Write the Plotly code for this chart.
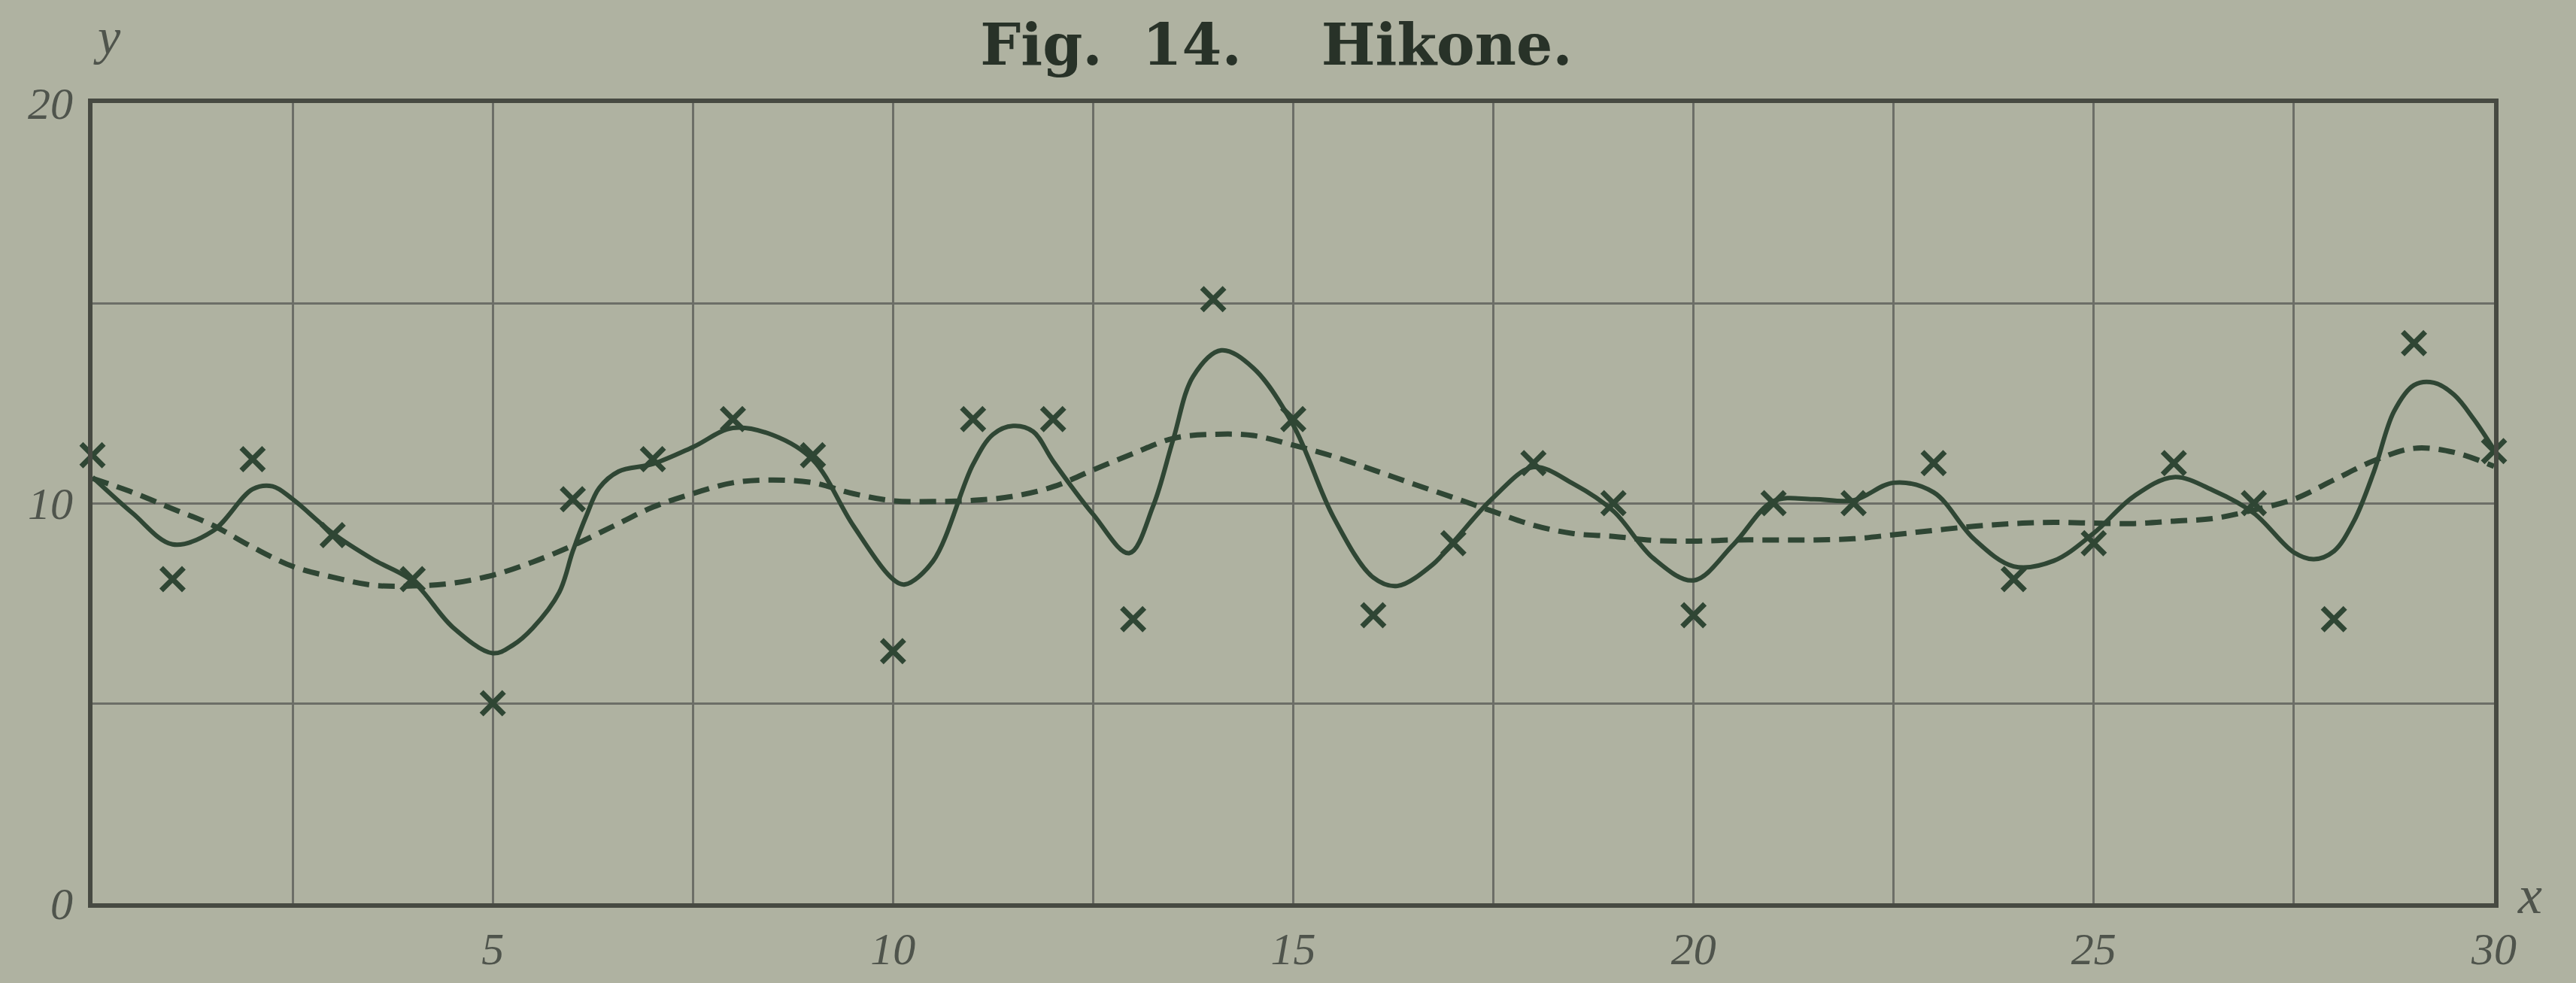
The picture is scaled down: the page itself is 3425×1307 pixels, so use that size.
import plotly.graph_objects as go

# Observed daily values (crosses)
obs_x = list(range(31))
obs_y = [11.2, 8.1, 11.1, 9.2, 8.1, 5.0, 10.1, 11.1, 12.1, 11.2,
         6.3, 12.1, 12.1, 7.1, 15.1, 12.1, 7.2, 9.0, 11.0, 10.0,
         7.2, 10.0, 10.0, 11.0, 8.1, 9.0, 11.0, 10.0, 7.1, 14.0, 11.3]

# Full curve (solid)
full_x = [0, 0.5, 1, 1.5, 2, 2.25, 2.5, 3, 3.5, 4, 4.5, 5, 5.25, 5.5, 5.83,
          6, 6.17, 6.33, 6.57, 7, 7.5, 8, 8.5, 9, 9.5, 10, 10.15, 10.5, 11,
          11.25, 11.5, 11.75, 12, 12.5, 12.95, 13.25, 13.5, 13.75, 14.1, 14.5,
          15, 15.5, 16, 16.3, 16.75, 17, 17.5, 18, 18.5, 19, 19.5, 20, 20.5,
          21, 21.5, 22, 22.5, 23, 23.5, 24, 24.5, 25, 25.5, 26, 26.5, 27,
          27.5, 27.75, 28, 28.25, 28.5, 28.75, 29, 29.25, 29.5, 29.75, 30]
full_y = [10.65, 9.75, 8.97, 9.3, 10.35, 10.42, 10.1, 9.25, 8.6, 8.05, 6.9,
          6.25, 6.45, 6.88, 7.77, 8.8, 9.69, 10.38, 10.79, 10.98, 11.4,
          11.88, 11.7, 11.08, 9.45, 8.1, 7.97, 8.55, 10.97, 11.72, 11.93,
          11.79, 11.05, 9.72, 8.75, 9.93, 11.59, 13.17, 13.82, 13.38, 11.95,
          9.66, 8.14, 7.93, 8.48, 9.03, 10.14, 10.9, 10.48, 9.8, 8.62, 8.07,
          8.97, 10.05, 10.1, 10.07, 10.51, 10.27, 9.11, 8.42, 8.56, 9.25,
          10.17, 10.65, 10.31, 9.75, 8.77, 8.6, 8.8, 9.55, 10.79, 12.29,
          12.95, 13.01, 12.71, 12.09, 11.34]

# Smoothed curve (dashed)
smooth_x = [i * 0.5 for i in range(61)]
smooth_y = [10.62, 10.27, 9.86, 9.45, 8.9, 8.42, 8.15, 7.95, 7.93, 8.0,
            8.2, 8.53, 8.94, 9.42, 9.9, 10.24, 10.51, 10.58, 10.51, 10.24,
            10.06, 10.04, 10.07, 10.17, 10.41, 10.83, 11.24, 11.62, 11.72,
            11.69, 11.45, 11.17, 10.83, 10.48, 10.14, 9.79, 9.45, 9.24, 9.17,
            9.07, 9.05, 9.08, 9.08, 9.08, 9.11, 9.21, 9.32, 9.42, 9.49, 9.52,
            9.5, 9.49, 9.55, 9.62, 9.83, 10.1, 10.58, 11.06, 11.37, 11.27,
            10.92]

# Axis ticks
x_grid = [i * 2.5 for i in range(13)]
x_labels = ["" if (v % 5 or v == 0) else str(int(v)) for v in x_grid]
y_grid = [0, 5, 10, 15, 20]
y_labels = ["0", "", "10", "", "20"]

PAPER = "#afb2a1"
INK = "#2f4634"
GRID = "#6c6e67"
FRAME = "#474a42"
NUM = "#4f544c"
SERIF = "Liberation Serif, DejaVu Serif, serif"
TITLE_FONT = "DejaVu Serif, Liberation Serif, serif"

fig = go.Figure()

fig.add_trace(go.Scatter(
    x=smooth_x, y=smooth_y, mode="lines",
    line=dict(color=INK, width=7, dash="22px,12px", shape="spline", smoothing=1.0),
    showlegend=False, hoverinfo="skip"))

fig.add_trace(go.Scatter(
    x=full_x, y=full_y, mode="lines",
    line=dict(color=INK, width=6, shape="spline", smoothing=1.0),
    showlegend=False, hoverinfo="skip"))

fig.add_trace(go.Scatter(
    x=obs_x, y=obs_y, mode="markers",
    marker=dict(symbol="x-thin", size=30, line=dict(color=INK, width=7)),
    showlegend=False, cliponaxis=False))

fig.update_layout(
    width=3425, height=1307, autosize=False,
    paper_bgcolor=PAPER, plot_bgcolor=PAPER,
    margin=dict(l=123, r=109, t=137, b=97),
    title=dict(text="<b>Fig.&nbsp;&nbsp;14.&nbsp;&nbsp;&nbsp;&nbsp;Hikone.</b>",
               x=0.4955, xanchor="center",
               y=1 - 59 / 1307, yanchor="middle",
               font=dict(family=TITLE_FONT, size=76, color="#283228")),
    xaxis=dict(range=[0, 30], tickvals=x_grid, ticktext=x_labels,
               showgrid=True, gridcolor=GRID, gridwidth=3, zeroline=False,
               showline=True, linecolor=FRAME, linewidth=6, mirror=True,
               ticks="", ticklabelstandoff=3,
               tickfont=dict(family=SERIF, size=60, color=NUM, style="italic")),
    yaxis=dict(range=[0, 20], tickvals=y_grid, ticktext=y_labels,
               showgrid=True, gridcolor=GRID, gridwidth=3, zeroline=False,
               showline=True, linecolor=FRAME, linewidth=6, mirror=True,
               ticks="", ticklabelstandoff=8,
               tickfont=dict(family=SERIF, size=60, color=NUM, style="italic")),
    annotations=[
        dict(text="y", xref="paper", yref="paper", x=0.006, y=1.083,
             xanchor="center", yanchor="middle", showarrow=False,
             font=dict(family=SERIF, size=68, color=NUM, style="italic")),
        dict(text="x", xref="paper", yref="paper", x=1.009, y=0.01,
             xanchor="left", yanchor="middle", showarrow=False,
             font=dict(family=SERIF, size=72, color=NUM, style="italic")),
    ],
)

fig.write_html("out.html")
